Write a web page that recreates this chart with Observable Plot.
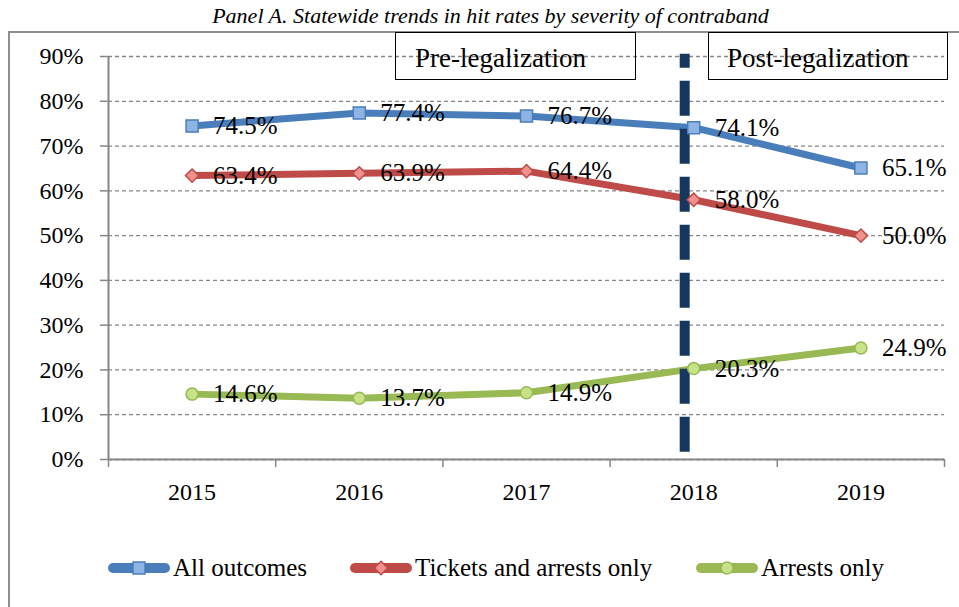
<!DOCTYPE html>
<html><head><meta charset="utf-8">
<script src="https://cdn.jsdelivr.net/npm/d3@7"></script>
<script src="https://cdn.jsdelivr.net/npm/@observablehq/plot@0.6"></script>
<style>
body{margin:0;overflow:hidden;background:#fff;font-family:"Liberation Serif",serif;}
#wrap{position:relative;width:959px;height:607px;overflow:hidden;}
#border{position:absolute;left:8px;top:31px;width:1200px;height:800px;border:2px solid #8f8f8f;box-sizing:border-box;}
#title{position:absolute;left:0;top:2px;width:981px;text-align:center;font-style:italic;font-size:22px;line-height:28px;color:#000;}
.box{position:absolute;top:32px;height:48px;border:1.5px solid #000;box-sizing:border-box;text-align:left;font-size:27px;line-height:50px;color:#000;white-space:nowrap;}
#chart{position:absolute;left:0;top:0;}
.leg{position:absolute;top:553px;height:30px;display:flex;align-items:center;font-size:25px;line-height:30px;color:#000;white-space:nowrap;}
.leg svg{margin-right:3px;}
</style></head><body><div id="wrap"><div id="border"></div><div id="chart"></div></div>
<script>
const years = [2015, 2016, 2017, 2018, 2019];
const allOutcomes = [0.745, 0.774, 0.767, 0.741, 0.651];
const ticketsArrests = [0.634, 0.639, 0.644, 0.580, 0.500];
const arrestsOnly = [0.146, 0.137, 0.149, 0.203, 0.249];
const seriesNames = ["All outcomes", "Tickets and arrests only", "Arrests only"];
const seriesValues = [allOutcomes, ticketsArrests, arrestsOnly];
const seriesColors = ["#4A7EBB", "#BE4B48", "#98B954"];
const markerFills = ["#8EB4E3", "#F0918E", "#C8E387"];
const markerSymbols = ["square", "diamond2", "circle"];
const markerR = [6.8, 6, 6];
const yTicks = [0, 0.1, 0.2, 0.3, 0.4, 0.5, 0.6, 0.7, 0.8, 0.9];
const legalizationYear = 2018;
const dividerExtent = [0.016, 0.905];
const periodLabels = ["Pre-legalization", "Post-legalization"];
const titleText = "Panel A. Statewide trends in hit rates by severity of contraband";

const boundaries = [...years.map(y => y - 0.5), years[years.length - 1] + 0.5];
const pct = v => (v * 100).toFixed(1) + "%";
const gray = "#868686";

const seriesMarks = seriesValues.map((vals, i) => ({
  i,
  rows: years.map((year, j) => ({year, value: vals[j], series: seriesNames[i]}))
}));

const marks = [
  Plot.gridY(yTicks, {stroke: gray, strokeOpacity: 1, strokeWidth: 1.3, strokeDasharray: "4,3"}),
  Plot.axisY(yTicks, {tickFormat: d => Math.round(d * 100) + "%", tickSize: 8, tickPadding: 17, fontSize: 24, fill: "#000", stroke: gray, strokeWidth: 1.5, label: null}),
  Plot.axisX(years, {tickSize: 0, tickPadding: 23, tickFormat: d => String(d), fontSize: 24, fill: "#000", label: null}),
  Plot.axisX(boundaries, {tickSize: 8, tickFormat: () => "", stroke: gray, strokeWidth: 1.5, label: null}),
  Plot.ruleX([boundaries[0]], {stroke: gray, strokeWidth: 2}),
  Plot.ruleY([0], {stroke: gray, strokeWidth: 2}),
  ...seriesMarks.map(({rows, i}) => Plot.line(rows, {x: "year", y: "value", stroke: seriesColors[i], strokeWidth: 7})),
  Plot.ruleX([legalizationYear], {y1: dividerExtent[0], y2: dividerExtent[1], dx: -9, stroke: "#17375E", strokeWidth: 10, strokeDasharray: "35,13"}),
  ...seriesMarks.map(({rows, i}) => Plot.dot(rows, {x: "year", y: "value", symbol: markerSymbols[i], r: markerR[i], fill: markerFills[i], stroke: seriesColors[i], strokeWidth: 1.5})),
  ...seriesMarks.map(({rows}) => Plot.text(rows, {x: "year", y: "value", text: d => pct(d.value), textAnchor: "start", dx: 21, fontSize: 25, fill: "#000"}))
];

const chart = Plot.plot({
  width: 959, height: 607,
  marginLeft: 108, marginRight: 15, marginTop: 56, marginBottom: 148,
  style: {fontFamily: "'Liberation Serif', serif", background: "transparent", overflow: "visible"},
  x: {domain: [boundaries[0], boundaries[boundaries.length - 1]]},
  y: {domain: [0, 0.9]},
  marks
});
document.getElementById("chart").appendChild(chart);

const wrap = document.getElementById("wrap");
const title = document.createElement("div");
title.id = "title"; title.textContent = titleText;
wrap.appendChild(title);

const boxPos = [[395, 241, 19], [708, 240, 18]];
periodLabels.forEach((t, i) => {
  const b = document.createElement("div");
  b.className = "box";
  b.style.left = boxPos[i][0] + "px";
  b.style.width = boxPos[i][1] + "px";
  b.style.paddingLeft = boxPos[i][2] + "px";
  b.textContent = t;
  wrap.appendChild(b);
});

const legLeft = [108, 350, 696];
seriesNames.forEach((name, i) => {
  const item = document.createElement("div");
  item.className = "leg";
  item.style.left = legLeft[i] + "px";
  const sw = d3.create("svg").attr("width", 62).attr("height", 20);
  sw.append("line").attr("x1", 5).attr("x2", 57).attr("y1", 10).attr("y2", 10)
    .attr("stroke", seriesColors[i]).attr("stroke-width", 10).attr("stroke-linecap", "round");
  const sym = {square: d3.symbolSquare, diamond2: d3.symbolDiamond2, circle: d3.symbolCircle}[markerSymbols[i]];
  sw.append("path").attr("transform", "translate(31,10)")
    .attr("d", d3.symbol(sym, Math.PI * markerR[i] * markerR[i])())
    .attr("fill", markerFills[i]).attr("stroke", seriesColors[i]).attr("stroke-width", 1.5);
  item.appendChild(sw.node());
  const span = document.createElement("span");
  span.textContent = name;
  item.appendChild(span);
  wrap.appendChild(item);
});
</script></body></html>
